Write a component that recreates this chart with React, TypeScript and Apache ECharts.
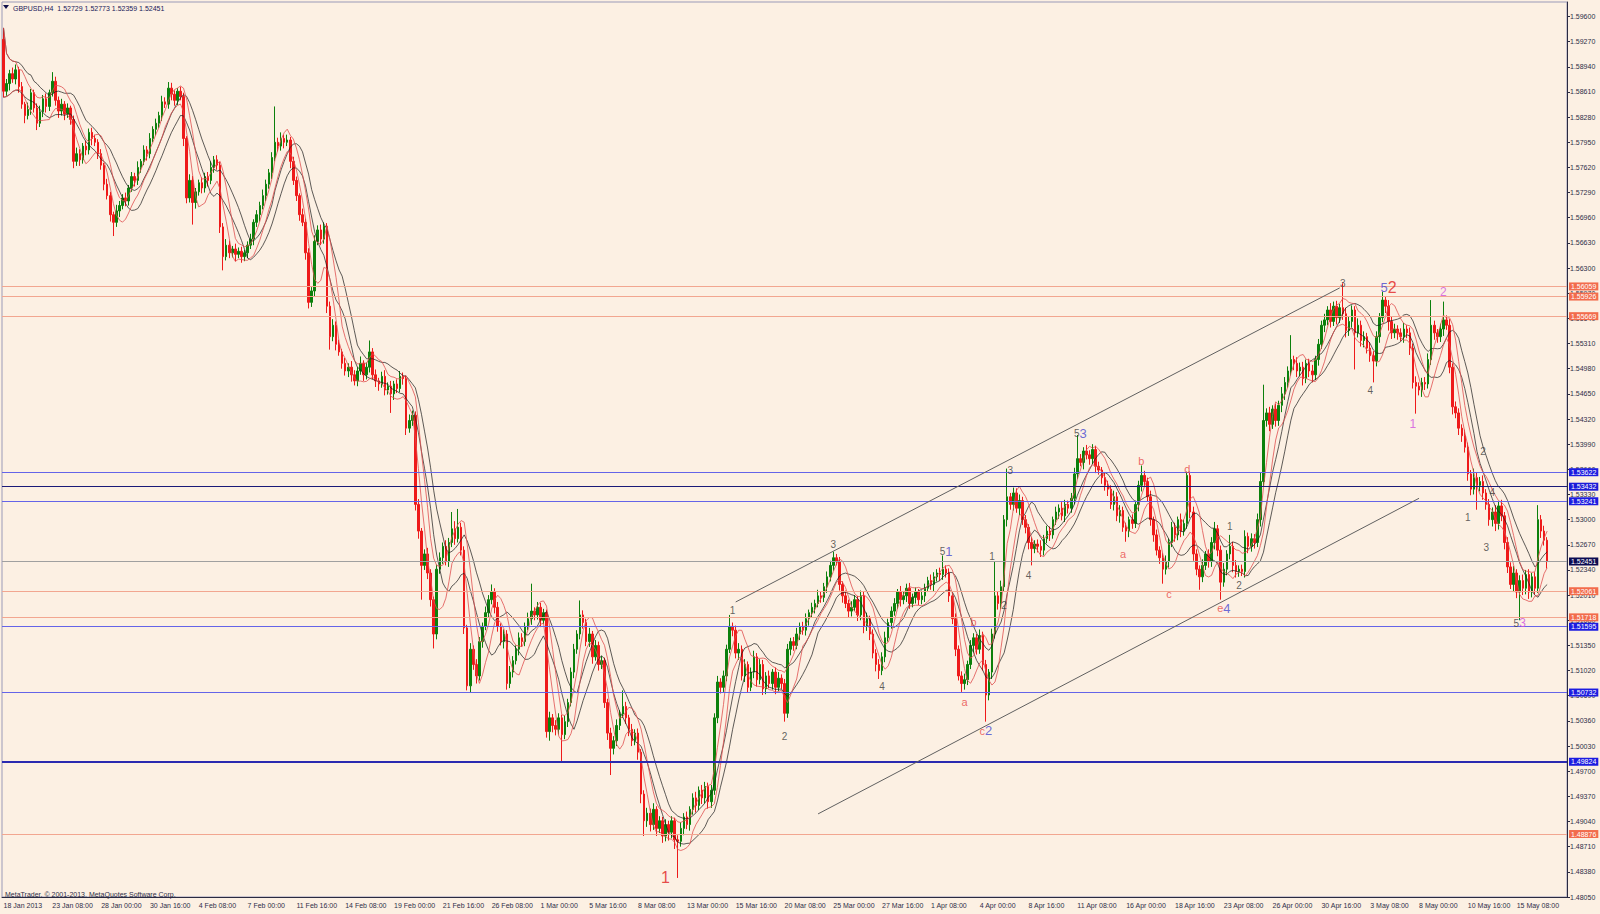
import React, { useEffect, useRef } from "react";
import * as echarts from "echarts";

// prices are stored in pips above 1.4000 (e.g. 1862 -> 1.5862)
const FIRST_OPEN = 1930;
const closes = [
  1862,1872,1885,1878,1890,1868,1845,1830,1838,1860,
  1840,1820,1835,1852,1842,1860,1875,1850,1836,1845,
  1832,1840,1825,1770,1780,1772,1790,1785,1808,1800,
  1795,1780,1765,1740,1725,1700,1690,1705,1712,1722,
  1718,1735,1750,1745,1762,1770,1785,1780,1800,1812,
  1820,1830,1848,1845,1866,1858,1850,1862,1855,1800,
  1722,1745,1716,1730,1742,1735,1750,1745,1762,1772,
  1765,1684,1645,1660,1650,1655,1648,1652,1645,1650,
  1660,1668,1690,1700,1712,1725,1740,1755,1775,1795,
  1790,1800,1795,1798,1770,1745,1725,1700,1690,1650,
  1585,1600,1665,1680,1668,1685,1580,1540,1555,1530,
  1520,1505,1495,1500,1490,1482,1495,1505,1490,1500,
  1520,1490,1482,1478,1488,1470,1475,1465,1478,1472,
  1488,1485,1420,1430,1437,1320,1285,1240,1255,1230,
  1195,1150,1235,1250,1265,1245,1270,1288,1275,1290,
  1260,1158,1082,1130,1110,1095,1140,1160,1178,1195,
  1205,1185,1160,1140,1150,1085,1100,1115,1130,1145,
  1140,1160,1170,1180,1175,1185,1168,1178,1022,1040,
  1030,1025,1040,1018,1035,1060,1100,1130,1150,1175,
  1165,1140,1150,1120,1135,1110,1115,1060,1020,1000,
  1010,1030,1045,1055,1040,1025,1010,1020,995,940,
  905,915,900,920,895,905,885,900,890,905,
  880,878,895,910,900,920,935,925,945,935,
  950,930,945,1040,1087,1080,1095,1130,1160,1155,
  1125,1130,1095,1110,1080,1100,1120,1090,1110,1078,
  1095,1085,1100,1080,1092,1085,1046,1130,1140,1135,
  1150,1160,1155,1170,1178,1185,1190,1200,1198,1212,
  1225,1240,1250,1245,1215,1200,1190,1180,1185,1195,
  1175,1200,1160,1170,1150,1125,1110,1102,1120,1145,
  1165,1180,1190,1205,1195,1200,1210,1190,1198,1205,
  1195,1200,1210,1220,1215,1225,1230,1228,1235,1230,
  1200,1170,1130,1095,1085,1090,1110,1135,1145,1130,
  1148,1110,1070,1100,1150,1200,1190,1212,1300,1330,
  1320,1335,1315,1325,1300,1290,1270,1262,1268,1265,
  1260,1275,1285,1280,1300,1310,1315,1305,1320,1315,
  1328,1360,1380,1375,1390,1385,1380,1392,1370,1365,
  1355,1345,1340,1320,1330,1305,1312,1290,1285,1300,
  1295,1320,1345,1358,1350,1330,1300,1280,1260,1250,
  1235,1245,1270,1290,1280,1300,1285,1295,1358,1310,
  1255,1235,1225,1240,1255,1245,1270,1288,1260,1218,
  1235,1255,1265,1240,1232,1235,1232,1278,1265,1275,
  1270,1300,1350,1430,1440,1425,1445,1430,1450,1465,
  1480,1495,1510,1505,1495,1500,1485,1505,1495,1490,
  1510,1530,1555,1562,1575,1560,1580,1565,1578,1570,
  1548,1560,1575,1545,1555,1535,1540,1525,1515,1508,
  1540,1565,1588,1580,1560,1545,1550,1545,1540,1550,
  1545,1525,1480,1475,1470,1480,1478,1510,1555,1545,
  1540,1550,1562,1555,1500,1448,1440,1420,1410,1395,
  1360,1340,1355,1345,1350,1335,1320,1300,1310,1295,
  1318,1305,1270,1238,1215,1230,1205,1220,1210,1228,
  1205,1225,1210,1300,1285,1273,1245
];
// wick lengths in pips above the body top / below the body bottom
const upperWicks = [
  15,6,5,8,7,4,6,3,9,5, 4,6,8,5,7,4,12,6,5,7, 4,6,3,5,8,6,4,7,5,6, 5,4,6,3,7,5,4,8,6,5,
  7,4,6,5,8,3,6,5,7,4, 6,5,8,6,8,7,5,4,6,5, 3,8,6,5,4,7,5,6,8,5, 6,4,5,8,6,4,7,5,6,4,
  5,7,4,6,5,8,6,5,7,47, 6,8,5,7,4,6,5,3,8,5, 6,5,8,6,7,5,4,6,8,5, 6,4,7,5,8,6,5,9,4,6,
  15,5,7,4,6,8,5,7,4,6, 7,5,4,8,6,5,7,4,6,8, 5,4,6,7,5,8,6,22,10,24, 6,5,4,8,5,7,6,5,8,6,
  10,5,7,4,6,5,8,6,5,7, 6,5,8,36,5,7,6,5,4,8, 5,7,6,4,8,5,6,7,5,19, 6,5,8,4,7,5,6,4,5,7,
  6,8,5,21,6,4,7,5,6,4, 5,7,6,8,4,6,5,7,5,6, 4,6,8,5,7,4,6,8,5,7, 6,5,7,6,8,5,7,6,15,5,
  6,8,5,7,4,6,8,5,7,6, 5,7,4,6,8,5,6,7,5,6, 8,5,6,7,4,6,5,8,6,5, 7,6,8,5,6,4,7,5,8,6,
  5,7,6,8,4,6,5,7,6,8, 5,6,7,4,8,5,6,7,5,6, 4,7,6,5,8,6,5,7,18,5, 6,4,7,5,6,8,5,7,6,5,
  8,5,6,4,7,45,6,8,6,37, 5,7,6,8,5,6,4,7,5,6, 8,5,7,6,4,7,5,8,6,5, 7,8,31,6,5,8,6,7,5,6,
  4,7,6,5,8,6,7,5,6,4, 7,5,6,13,6,5,8,4,7,5, 6,8,5,7,6,4,8,5,5,5, 7,6,5,8,4,6,7,9,5,6,
  8,5,15,6,7,5,6,8,5,7, 6,8,12,47,6,8,5,7,6,9, 7,6,32,5,8,6,7,5,6,8, 5,7,6,8,5,9,6,7,5,32,
  8,7,6,5,9,6,7,5,8,6, 7,6,11,5,8,6,7,5,6,8, 5,7,6,8,5,6,7,8,33,6, 5,7,24,6,8,5,7,6,5,8,
  6,5,12,7,6,8,5,7,6,9, 6,8,5,7,6,9,5,7,8,6, 7,5,6,19,6,7,4
];
const lowerWicks = [
  8,6,9,5,7,8,6,10,5,7, 6,9,5,7,8,6,5,7,9,6, 8,5,7,9,6,8,5,7,6,9, 5,7,6,8,5,9,18,6,8,5,
  7,6,5,8,6,7,5,9,6,5, 8,6,7,5,6,8,7,6,5,10, 7,6,29,8,5,7,6,8,5,7, 6,8,18,5,7,6,9,5,8,6,
  7,5,8,6,9,5,7,6,8,5, 7,6,8,5,9,6,7,8,5,9, 8,6,7,5,8,6,9,17,6,8, 5,7,6,8,9,6,7,5,8,6,
  7,6,8,9,5,7,6,25,8,6, 5,8,9,6,7,8,10,45,6,8, 9,19,7,6,8,5,7,6,8,5, 7,8,6,9,7,10,6,8,5,7,
  6,8,7,5,9,8,6,7,5,8, 7,6,5,8,7,6,9,5,8,12, 9,8,7,35,6,7,5,8,6,7, 8,6,7,9,5,8,6,7,9,35,
  8,7,6,5,8,9,7,6,10,12, 20,8,9,7,10,6,9,7,11,8, 12,48,7,9,6,8,7,9,6,8, 7,9,8,6,7,8,6,7,5,8,
  7,9,6,8,7,5,8,9,6,8, 7,6,8,9,5,7,11,6,8,7, 5,8,6,7,9,6,8,5,7,6, 8,6,7,5,8,9,6,8,7,5,
  8,7,9,6,8,7,9,11,6,7, 5,8,6,7,9,6,8,7,5,8, 7,6,8,5,7,9,6,8,7,6, 8,7,9,6,11,8,7,6,9,7,
  6,8,35,7,9,6,8,7,6,9, 7,8,6,9,7,8,9,22,6,8, 9,7,6,8,5,7,9,6,8,7, 6,8,7,5,9,6,8,7,9,6,
  8,7,9,6,8,7,9,6,14,8, 7,6,9,8,7,6,8,9,7,8, 19,7,8,6,9,7,8,6,7,8, 9,8,17,7,6,8,7,9,8,23,
  6,8,7,9,8,7,6,8,9,7, 8,6,9,7,8,9,6,8,7,9, 8,7,6,9,8,7,9,6,8,10, 7,8,6,9,7,8,6,9,7,8,
  9,7,8,48,6,8,9,7,8,28, 7,8,6,9,12,8,7,9,6,8, 7,9,8,36,7,9,8,6,7,9, 8,7,9,6,8,10,7,9,8,7,
  9,8,7,32,8,9,7,8,9,10, 8,7,9,8,6,10,8,37,9,8, 9,7,8,6,9,7,9
];

const timeLabels = [
  "18 Jan 2013","23 Jan 08:00","28 Jan 00:00","30 Jan 16:00","4 Feb 08:00","7 Feb 00:00",
  "11 Feb 16:00","14 Feb 08:00","19 Feb 00:00","21 Feb 16:00","26 Feb 08:00","1 Mar 00:00",
  "5 Mar 16:00","8 Mar 08:00","13 Mar 00:00","15 Mar 16:00","20 Mar 08:00","25 Mar 00:00",
  "27 Mar 16:00","1 Apr 08:00","4 Apr 00:00","8 Apr 16:00","11 Apr 08:00","16 Apr 00:00",
  "18 Apr 16:00","23 Apr 08:00","26 Apr 00:00","30 Apr 16:00","3 May 08:00","8 May 00:00",
  "10 May 16:00","15 May 08:00"
];
const LABEL_STEP = 16;
const EMPTY_BARS = 6;

const salmonLevels = [1.56059, 1.55926, 1.55669, 1.52061, 1.51718, 1.48876];
const blueLevels = [1.53622, 1.53241, 1.51595, 1.50732];
const navyLevel = 1.53432;
const thickBlueLevel = 1.49824;
const bidLevel = 1.52451;

const channelUpper = [[240, 1.5192], [438, 1.5604]];
const channelLower = [[267, 1.4914], [464, 1.5328]];

const waveBars = [217,239,256,272,288,309,315,318,322,324,328,330,336,353,367,373,382,388,400,402,405,439,448,454,462,472,485,480,488,486,497];
const wavePrices = [1.4831,1.5181,1.5015,1.5268,1.5081,1.5258,1.5061,1.5166,1.5023,1.5251,1.5187,1.5365,1.5227,1.5413,1.5255,1.5377,1.5203,1.5367,1.5184,1.5291,1.5213,1.5610,1.5469,1.5604,1.5425,1.5599,1.5390,1.5303,1.5335,1.5263,1.5164];
const waveTexts = [
  "{R|1}","{d|1}","{d|2}","{d|3}","{d|4}","{d|5}{b|1}","{r|a}","{r|b}","{r|c}{b|2}","{d|1}",
  "{d|2}","{d|3}","{d|4}","{d|5}{b|3}","{r|a}","{r|b}","{r|c}","{r|d}","{r|e}{b|4}","{d|1}",
  "{d|2}","{d|3}","{d|4}","{b|5}{R|2}","{m|1}","{m|2}","{d|2}","{d|1}","{d|4}","{d|3}","{d|5}{m|3}"
];

const FONT = "Liberation Sans";
const BG = "#FCF0E3";

function sma(arr: number[], n: number) {
  return arr.map((_, i) => {
    const s = Math.max(0, i - n + 1);
    let sum = 0;
    for (let k = s; k <= i; k++) sum += arr[k];
    return +(sum / (i - s + 1)).toFixed(5);
  });
}

export default function App() {
  const ref = useRef<HTMLDivElement>(null);
  useEffect(() => {
    document.body.style.margin = "0";
    document.body.style.background = BG;
    if (!ref.current) return;
    const chart = echarts.init(ref.current, null, { renderer: "svg" });

    const px = (v: number) => +(1.4 + v / 10000).toFixed(5);
    const candles: number[][] = [];
    const highs: number[] = [];
    const lows: number[] = [];
    closes.forEach((c, i) => {
      const o = i === 0 ? FIRST_OPEN : closes[i - 1];
      const h = Math.max(o, c) + upperWicks[i];
      const l = Math.min(o, c) - lowerWicks[i];
      candles.push([px(o), px(c), px(l), px(h)]);
      highs.push(px(h));
      lows.push(px(l));
    });
    const nCats = closes.length + EMPTY_BARS;
    const cats = Array.from({ length: nCats }, (_, i) => String(i));
    const showIdx = (i: number) => i % LABEL_STEP === 0 && i / LABEL_STEP < timeLabels.length;

    const lvl = (v: number, color: string, bg: string, width = 1) => ({
      name: "L" + v,
      yAxis: v,
      lineStyle: { color, width, type: "solid" },
      label: {
        show: true, position: "end", distance: 2,
        formatter: v.toFixed(5),
        color: "#ffffff", backgroundColor: bg, fontSize: 7, fontFamily: FONT,
        padding: [1, 2, 0, 2]
      }
    });
    const levelData: any[] = [
      ...salmonLevels.map((v) => lvl(v, "#F2A690", "#F26C4C")),
      ...blueLevels.map((v) => lvl(v, "#6464E8", "#1C1CE0")),
      lvl(navyLevel, "#1A1A78", "#1C1CD8"),
      lvl(thickBlueLevel, "#2A2AB0", "#1C1CE0", 2),
      lvl(bidLevel, "#A0A0A0", "#0C0C52"),
      [
        { coord: channelUpper[0], lineStyle: { color: "#606060", width: 1, type: "solid" }, label: { show: false } },
        { coord: channelUpper[1] }
      ],
      [
        { coord: channelLower[0], lineStyle: { color: "#606060", width: 1, type: "solid" }, label: { show: false } },
        { coord: channelLower[1] }
      ]
    ];

    const maLine = (data: number[], color: string, opacity: number) => ({
      type: "line", data, symbol: "none", silent: true, z: 3,
      lineStyle: { color, width: 1, opacity }, smooth: false
    });

    chart.setOption({
      animation: false,
      backgroundColor: BG,
      textStyle: { fontFamily: FONT },
      grid: { left: 2, right: 33, top: 2, bottom: 17, show: true, borderColor: "#9A9AB8", borderWidth: 1 },
      xAxis: {
        type: "category", data: cats, boundaryGap: true,
        axisLine: { lineStyle: { color: "#2A2A40" } },
        axisTick: { alignWithLabel: true, interval: (i: number) => showIdx(i), length: 3, lineStyle: { color: "#2A2A40" } },
        axisLabel: {
          interval: (i: number) => showIdx(i),
          formatter: (_v: string, i: number) => timeLabels[i / LABEL_STEP] || "",
          align: "left", margin: 5, fontSize: 7, fontFamily: FONT, color: "#2E2E48"
        },
        splitLine: { show: false }
      },
      yAxis: {
        type: "value", position: "right", min: 1.4805, max: 1.5979, interval: 0.0033,
        axisLine: { show: true, lineStyle: { color: "#2A2A40" } },
        axisTick: { show: true, length: 3, lineStyle: { color: "#2A2A40" } },
        axisLabel: {
          formatter: (v: number) => v.toFixed(5), fontSize: 7, fontFamily: FONT,
          color: "#2E2E48", margin: 3, showMaxLabel: false
        },
        splitLine: { show: false }
      },
      series: [
        {
          type: "candlestick", data: candles, z: 2, barWidth: 2,
          itemStyle: {
            color: "#0C800C", color0: "#EE1A1A",
            borderColor: "#0C800C", borderColor0: "#EE1A1A", borderWidth: 1
          },
          markLine: { symbol: ["none", "none"], silent: true, animation: false, precision: 5, data: levelData }
        },
        maLine(sma(highs, 10), "#1A1A1A", 0.7),
        maLine(sma(lows, 10), "#1A1A1A", 0.7),
        maLine(sma(highs, 5), "#E05050", 0.8),
        maLine(sma(lows, 5), "#E05050", 0.8),
        {
          type: "scatter", z: 5, silent: true, symbolSize: 0,
          data: waveBars.map((b, i) => ({ value: [b, wavePrices[i]] })),
          label: {
            show: true, position: "inside",
            formatter: (p: any) => waveTexts[p.dataIndex],
            rich: {
              d: { color: "#3A3A3A", fontSize: 10, fontFamily: FONT },
              r: { color: "#E84545", fontSize: 11, fontFamily: FONT },
              R: { color: "#E02020", fontSize: 16, fontFamily: FONT },
              b: { color: "#4646D0", fontSize: 13, fontFamily: FONT },
              m: { color: "#D050E0", fontSize: 12, fontFamily: FONT }
            }
          }
        }
      ],
      graphic: [
        { type: "polygon", shape: { points: [[3, 5], [9, 5], [6, 9]] }, style: { fill: "#10104A" } },
        {
          type: "text", x: 13, y: 8,
          style: { text: "GBPUSD,H4  1.52729 1.52773 1.52359 1.52451", fontSize: 7, fontFamily: FONT, fill: "#20205A", verticalAlign: "middle" }
        },
        {
          type: "text", x: 5, y: 894,
          style: { text: "MetaTrader, © 2001-2013, MetaQuotes Software Corp.", fontSize: 7, fontFamily: FONT, fill: "#2E2E48", verticalAlign: "middle" }
        }
      ]
    });
    return () => chart.dispose();
  }, []);
  return <div ref={ref} style={{ width: 1600, height: 914, background: BG }} />;
}
